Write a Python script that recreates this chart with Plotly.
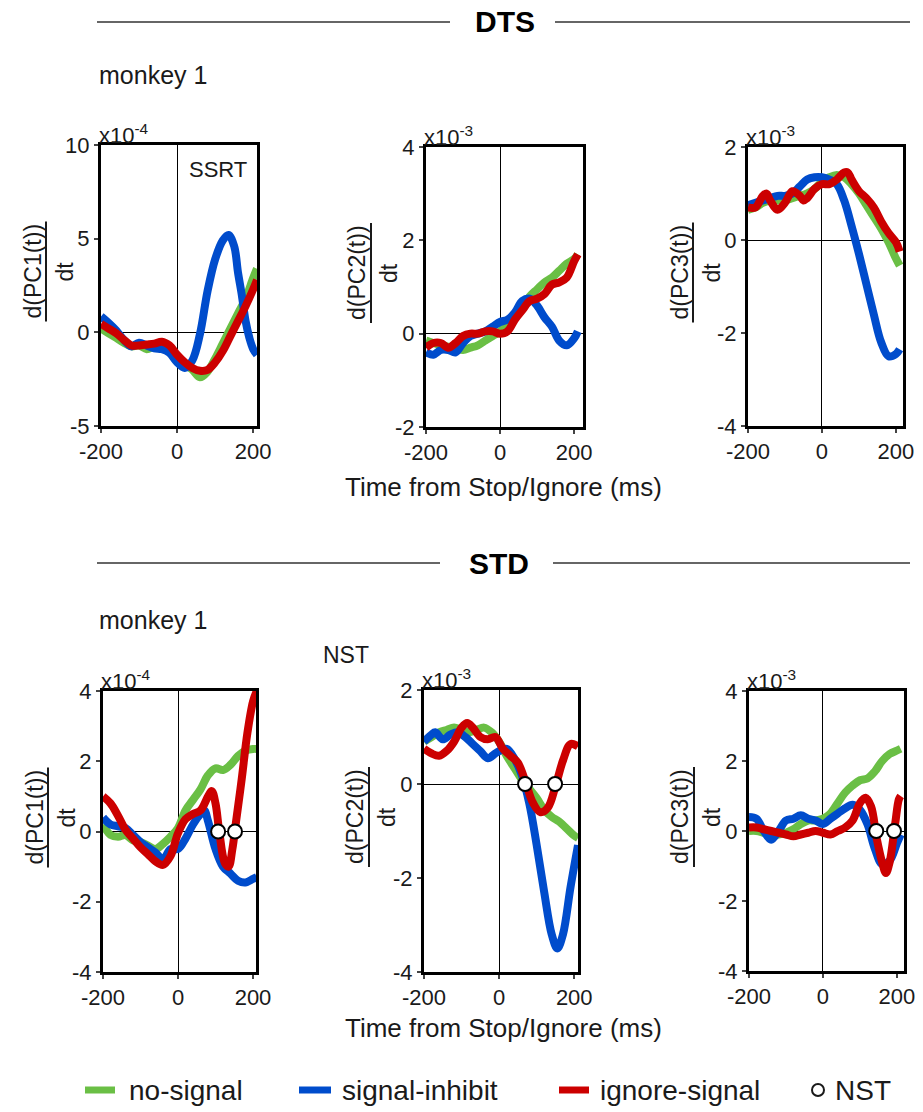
import plotly.graph_objects as go

W, H = 923, 1112

# ---------------- data (values in units of the panel multiplier) ----------------
t_grid = [-200, -180, -160, -140, -120, -100, -80, -60, -40, -20, 0, 20, 40, 60, 80, 100, 120, 140, 160, 180, 200, 210]

# DTS, PC1 (x1e-4)
dts1_green = [0.2, -0.05, -0.3, -0.55, -0.75, -0.7, -0.9, -0.75, -0.7, -1.0, -1.4, -1.7, -2.0, -2.4, -2.1, -1.4, -0.6, 0.2, 1.0, 1.8, 2.9, 3.4]
dts1_blue_t = [-200, -180, -160, -140, -120, -100, -80, -60, -40, -20, 0, 20, 40, 60, 80, 100, 120, 135, 150, 160, 170, 180, 190, 200, 210]
dts1_blue = [0.85, 0.5, 0.1, -0.4, -0.75, -0.55, -0.7, -0.85, -0.9, -1.1, -1.6, -1.9, -1.5, -0.1, 2.2, 3.9, 4.9, 5.2, 4.6, 3.2, 2.0, 0.6, -0.3, -0.9, -1.2]
dts1_red = [0.45, 0.2, -0.05, -0.4, -0.7, -0.7, -0.65, -0.6, -0.5, -0.7, -1.2, -1.6, -1.9, -2.05, -2.0, -1.6, -1.0, -0.2, 0.6, 1.4, 2.3, 2.8]

# DTS, PC2 (x1e-3)
dts2_green = [-0.15, -0.2, -0.25, -0.28, -0.3, -0.35, -0.3, -0.25, -0.15, -0.05, 0.05, 0.2, 0.4, 0.6, 0.8, 0.95, 1.1, 1.2, 1.35, 1.5, 1.6, 1.7]
dts2_blue = [-0.4, -0.45, -0.35, -0.35, -0.4, -0.2, -0.05, 0.0, 0.05, 0.15, 0.25, 0.3, 0.45, 0.7, 0.75, 0.6, 0.35, 0.15, -0.15, -0.25, -0.1, 0.05]
dts2_red = [-0.3, -0.2, -0.2, -0.3, -0.2, -0.05, 0.0, 0.0, 0.05, 0.05, 0.0, 0.05, 0.3, 0.5, 0.7, 0.75, 0.85, 1.05, 1.1, 1.2, 1.55, 1.7]

# DTS, PC3 (x1e-3)
dts3_green = [0.65, 0.7, 0.8, 0.85, 0.85, 0.85, 0.9, 0.95, 1.0, 1.1, 1.25, 1.35, 1.4, 1.35, 1.2, 1.0, 0.75, 0.5, 0.25, -0.05, -0.4, -0.55]
dts3_blue = [0.75, 0.8, 0.85, 0.9, 0.95, 0.95, 1.0, 1.15, 1.3, 1.35, 1.35, 1.3, 1.2, 0.85, 0.3, -0.3, -0.95, -1.6, -2.2, -2.5, -2.45, -2.35]
dts3_red_t = [-200, -180, -160, -150, -140, -120, -100, -80, -60, -50, -40, -20, 0, 20, 40, 60, 70, 80, 100, 120, 140, 160, 180, 200, 210]
dts3_red = [0.7, 0.7, 0.95, 1.0, 0.85, 0.65, 0.8, 1.05, 0.95, 0.85, 0.9, 1.1, 1.2, 1.2, 1.3, 1.45, 1.45, 1.3, 1.05, 0.9, 0.7, 0.4, 0.15, -0.05, -0.25]

# STD, PC1 (x1e-4)
std1_green = [0.2, -0.1, -0.15, -0.1, -0.25, -0.3, -0.4, -0.5, -0.35, -0.15, 0.1, 0.6, 0.9, 1.2, 1.6, 1.8, 1.75, 1.9, 2.15, 2.3, 2.35, 2.35]
std1_blue_t = [-200, -180, -160, -140, -120, -100, -80, -60, -40, -20, 0, 20, 40, 60, 70, 80, 100, 120, 140, 160, 180, 200, 210]
std1_blue = [0.4, 0.2, 0.15, 0.1, -0.1, -0.3, -0.45, -0.6, -0.8, -0.5, -0.5, -0.2, 0.2, 0.5, 0.6, 0.3, -0.5, -1.0, -1.2, -1.4, -1.45, -1.35, -1.3]
std1_red_t = [-200, -180, -160, -140, -120, -100, -80, -60, -40, -20, 0, 20, 40, 60, 80, 90, 100, 110, 125, 135, 145, 155, 170, 185, 200, 210]
std1_red = [1.0, 0.8, 0.45, 0.05, -0.2, -0.45, -0.65, -0.85, -0.95, -0.7, -0.05, 0.35, 0.5, 0.6, 1.0, 1.15, 0.8, 0.0, -0.9, -1.0, -0.5, 0.3, 1.5, 2.8, 3.7, 4.0]
std1_nst_t = [107, 152]

# STD, PC2 (x1e-3)
std2_green = [0.9, 1.0, 1.1, 1.15, 1.2, 1.15, 1.1, 1.15, 1.2, 1.1, 0.9, 0.6, 0.35, 0.1, -0.1, -0.3, -0.55, -0.7, -0.8, -0.95, -1.1, -1.15]
std2_blue_t = [-200, -180, -170, -150, -130, -110, -90, -70, -50, -30, -10, 0, 20, 40, 60, 80, 100, 120, 140, 155, 170, 190, 210]
std2_blue = [0.9, 1.05, 1.1, 0.95, 1.05, 1.1, 1.0, 0.85, 0.7, 0.55, 0.65, 0.7, 0.75, 0.55, 0.2, -0.4, -1.3, -2.3, -3.2, -3.5, -3.2, -2.2, -1.3]
std2_red_t = [-200, -180, -160, -140, -120, -100, -85, -70, -50, -30, -10, 10, 30, 50, 70, 90, 110, 130, 150, 170, 190, 210]
std2_red = [0.75, 0.65, 0.6, 0.7, 0.9, 1.2, 1.3, 1.2, 1.0, 0.95, 1.0, 0.75, 0.6, 0.45, 0.05, -0.4, -0.6, -0.5, -0.05, 0.5, 0.85, 0.8]
std2_nst_t = [69, 149]

# STD, PC3 (x1e-3)
std3_green = [0.0, 0.0, -0.05, -0.1, -0.1, -0.05, 0.05, 0.2, 0.3, 0.3, 0.35, 0.5, 0.8, 1.1, 1.3, 1.45, 1.5, 1.7, 2.0, 2.2, 2.3, 2.35]
std3_blue_t = [-200, -180, -160, -140, -120, -100, -80, -60, -40, -20, 0, 20, 40, 60, 80, 100, 120, 140, 160, 180, 200, 210]
std3_blue = [0.4, 0.35, 0.0, -0.25, 0.0, 0.3, 0.35, 0.45, 0.35, 0.3, 0.2, 0.35, 0.5, 0.65, 0.75, 0.6, 0.2, -0.5, -0.95, -0.85, -0.35, -0.1]
std3_red_t = [-200, -180, -160, -140, -120, -100, -80, -60, -40, -20, 0, 20, 40, 60, 80, 100, 115, 130, 145, 160, 170, 180, 195, 205, 210]
std3_red = [0.1, 0.1, 0.05, 0.0, -0.05, -0.1, -0.15, -0.1, -0.05, 0.0, -0.05, -0.1, 0.0, 0.1, 0.3, 0.8, 0.95, 0.7, -0.2, -0.9, -1.2, -0.9, 0.2, 0.9, 1.0]
std3_nst_t = [144, 192]

# axis settings per panel
y_ranges = [[-5, 10], [-2, 4], [-4, 2], [-4, 4], [-4, 2], [-4, 4]]
y_ticks = [[-5, 0, 5, 10], [-2, 0, 2, 4], [-4, -2, 0, 2], [-4, -2, 0, 2, 4], [-4, -2, 0, 2], [-4, -2, 0, 2, 4]]
x_ticks = [-200, 0, 200]
x_right = [210, 224, 219, 208, 210, 219]
multipliers = ["x10<sup>-4</sup>", "x10<sup>-3</sup>", "x10<sup>-3</sup>", "x10<sup>-4</sup>", "x10<sup>-3</sup>", "x10<sup>-3</sup>"]
ylabels = ["d(PC1(t))", "d(PC2(t))", "d(PC3(t))", "d(PC1(t))", "d(PC2(t))", "d(PC3(t))"]
legend_names = ["no-signal", "signal-inhibit", "ignore-signal", "NST"]

GREEN, BLUE, RED = "#6abf45", "#004ccc", "#cc0000"

# panel pixel boxes (left, right, top, bottom)
boxes = [(101, 257, 145, 426), (426, 583, 147, 427), (748, 903, 147, 426),
         (103, 256, 691, 972), (424, 578, 690, 972), (749, 904, 691, 971)]


def px(x):
    return x / W


def py(y):
    return 1 - y / H


panels = [
    [(t_grid, dts1_green, GREEN), (dts1_blue_t, dts1_blue, BLUE), (t_grid, dts1_red, RED)],
    [(t_grid, dts2_green, GREEN), (t_grid, dts2_blue, BLUE), (t_grid, dts2_red, RED)],
    [(t_grid, dts3_green, GREEN), (t_grid, dts3_blue, BLUE), (dts3_red_t, dts3_red, RED)],
    [(t_grid, std1_green, GREEN), (std1_blue_t, std1_blue, BLUE), (std1_red_t, std1_red, RED)],
    [(t_grid, std2_green, GREEN), (std2_blue_t, std2_blue, BLUE), (std2_red_t, std2_red, RED)],
    [(t_grid, std3_green, GREEN), (std3_blue_t, std3_blue, BLUE), (std3_red_t, std3_red, RED)],
]
nst = {3: std1_nst_t, 4: std2_nst_t, 5: std3_nst_t}

fig = go.Figure()
FONT = "Liberation Sans"
TXT = "#1a1a1a"
annotations = []
shapes = []

for i, (box, series) in enumerate(zip(boxes, panels)):
    k = "" if i == 0 else str(i + 1)
    xa, ya = "x" + k, "y" + k
    l, r, t, b = box
    for xs, ys, col in series:
        fig.add_trace(go.Scatter(x=xs, y=ys, mode="lines", xaxis=xa, yaxis=ya,
                                 line=dict(color=col, width=8, shape="spline", smoothing=1.0),
                                 showlegend=False, hoverinfo="skip"))
    if i in nst:
        fig.add_trace(go.Scatter(x=nst[i], y=[0] * len(nst[i]), mode="markers", xaxis=xa, yaxis=ya,
                                 marker=dict(size=14, color="white", line=dict(color="black", width=2)),
                                 showlegend=False, hoverinfo="skip"))
    fig.layout["xaxis" + k] = dict(domain=[px(l), px(r)], anchor=ya, range=[-200, x_right[i]],
                                   tickvals=x_ticks, ticktext=[str(v) for v in x_ticks],
                                   ticks="outside", ticklen=4, tickwidth=2,
                                   showline=True, linewidth=3, linecolor="black", mirror=True,
                                   showgrid=False, zeroline=True, zerolinecolor="black", zerolinewidth=1,
                                   tickfont=dict(size=22, family=FONT, color=TXT))
    fig.layout["yaxis" + k] = dict(domain=[py(b), py(t)], anchor=xa, range=y_ranges[i],
                                   tickvals=y_ticks[i], ticktext=[str(v) for v in y_ticks[i]],
                                   ticks="outside", ticklen=4, tickwidth=2,
                                   showline=True, linewidth=3, linecolor="black", mirror=True,
                                   showgrid=False, zeroline=True, zerolinecolor="black", zerolinewidth=1,
                                   tickfont=dict(size=22, family=FONT, color=TXT))
    # multiplier
    annotations.append(dict(x=px(l - 4), y=py(t), xref="paper", yref="paper", xanchor="left", yanchor="bottom",
                            text=multipliers[i], showarrow=False, yshift=-5,
                            font=dict(size=22, family=FONT, color=TXT)))
    # y label as fraction
    cy = (t + b) / 2 - 14
    annotations.append(dict(x=px(l - 69), y=py(cy), xref="paper", yref="paper", xanchor="center", yanchor="middle",
                            text=ylabels[i], textangle=-90, showarrow=False,
                            font=dict(size=23, family=FONT, color=TXT)))
    annotations.append(dict(x=px(l - 37), y=py(cy), xref="paper", yref="paper", xanchor="center", yanchor="middle",
                            text="dt", textangle=-90, showarrow=False,
                            font=dict(size=23, family=FONT, color=TXT)))
    shapes.append(dict(type="line", xref="paper", yref="paper", x0=px(l - 55), x1=px(l - 55),
                       y0=py(cy - 50), y1=py(cy + 50), line=dict(color=TXT, width=2)))

# section headers
for yline, label, lx1, rx0 in [(22, "DTS", 450, 555), (563, "STD", 440, 553)]:
    shapes.append(dict(type="line", xref="paper", yref="paper", x0=px(97), x1=px(lx1), y0=py(yline), y1=py(yline),
                       line=dict(color="#333", width=1.5)))
    shapes.append(dict(type="line", xref="paper", yref="paper", x0=px(rx0), x1=px(910), y0=py(yline), y1=py(yline),
                       line=dict(color="#333", width=1.5)))
    annotations.append(dict(x=px((lx1 + rx0) / 2 + 2), y=py(yline), xref="paper", yref="paper", xanchor="center",
                            yanchor="middle", text="<b>" + label + "</b>", showarrow=False,
                            font=dict(size=30, family=FONT, color="black")))

for ym in [75, 620]:
    annotations.append(dict(x=px(97), y=py(ym), xref="paper", yref="paper", xanchor="left", yanchor="middle",
                            text="monkey 1", showarrow=False, font=dict(size=25, family=FONT, color=TXT)))

annotations.append(dict(x=px(346), y=py(655), xref="paper", yref="paper", xanchor="center", yanchor="middle",
                        text="NST", showarrow=False, font=dict(size=23, family=FONT, color=TXT)))
annotations.append(dict(x=px(218), y=py(169), xref="paper", yref="paper", xanchor="center", yanchor="middle",
                        text="SSRT", showarrow=False, font=dict(size=22, family=FONT, color=TXT)))

for yt in [487, 1028]:
    annotations.append(dict(x=px(503), y=py(yt), xref="paper", yref="paper", xanchor="center", yanchor="middle",
                            text="Time from Stop/Ignore (ms)", showarrow=False,
                            font=dict(size=26, family=FONT, color=TXT)))

# legend
leg_y = 1090
LEGFONT = dict(size=28, family=FONT, color=TXT)
for (x0, x1, tx), col, name in zip([(85, 115, 127), (299, 331, 340), (559, 589, 598)], [GREEN, BLUE, RED], legend_names[:3]):
    shapes.append(dict(type="line", xref="paper", yref="paper", x0=px(x0), x1=px(x1), y0=py(leg_y), y1=py(leg_y),
                       line=dict(color=col, width=7)))
    annotations.append(dict(x=px(tx), y=py(leg_y), xref="paper", yref="paper", xanchor="left", yanchor="middle",
                            text=name, showarrow=False, font=LEGFONT))
shapes.append(dict(type="circle", xref="paper", yref="paper", x0=px(812), x1=px(824), y0=py(leg_y + 6), y1=py(leg_y - 6),
                   line=dict(color=TXT, width=2), fillcolor="white"))
annotations.append(dict(x=px(833), y=py(leg_y), xref="paper", yref="paper", xanchor="left", yanchor="middle",
                        text=legend_names[3], showarrow=False, font=LEGFONT))

fig.update_layout(width=W, height=H, margin=dict(l=0, r=0, t=0, b=0, autoexpand=False),
                  plot_bgcolor="white", paper_bgcolor="white",
                  annotations=annotations, shapes=shapes, showlegend=False)

fig.write_html("out.html")
